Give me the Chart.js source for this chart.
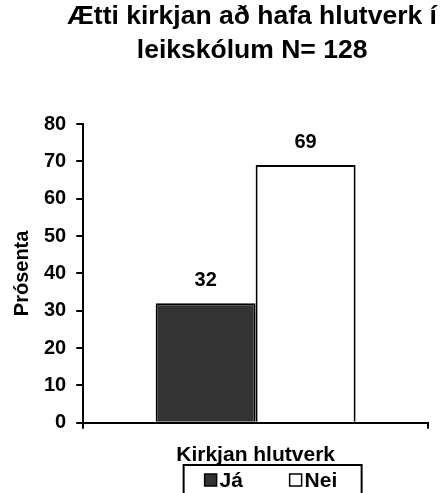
<!DOCTYPE html>
<html>
<head>
<meta charset="utf-8">
<script src="https://cdn.jsdelivr.net/npm/chart.js@4.4.0/dist/chart.umd.min.js"></script>
<style>
  html, body { margin: 0; padding: 0; background: #fff; }
  #wrap { width: 441px; height: 493px; }
</style>
</head>
<body>
<div id="wrap"><canvas id="barChart"></canvas></div>
<script>

const chartTitle = ['Ætti kirkjan að hafa hlutverk í', 'leikskólum N= 128'];
const categories = ['Kirkjan hlutverk'];
const seriesNames = ['Já', 'Nei'];
const seriesValues = [[32], [69]];
const seriesColors = ['#333333', '#ffffff'];
const yTicks = [0, 10, 20, 30, 40, 50, 60, 70, 80];
const xAxisTitle = 'Kirkjan hlutverk';
const yAxisTitle = 'Prósenta';

const fontFamily = '"Liberation Sans", Arial, sans-serif';

// title centred roughly over the plot (a bit wider so it isn't squeezed)
const centerTitle = {
  id: 'centerTitle',
  afterLayout(chart) {
    chart.titleBlock.left = chart.chartArea.left - 20;
    chart.titleBlock.right = chart.chartArea.right + 13;
  }
};

// value printed above each bar
const barValues = {
  id: 'barValues',
  afterDatasetsDraw(chart) {
    const ctx = chart.ctx;
    ctx.save();
    ctx.font = 'bold 20px ' + fontFamily;
    ctx.fillStyle = '#000';
    ctx.textAlign = 'center';
    ctx.textBaseline = 'middle';
    chart.data.datasets.forEach((ds, i) => {
      chart.getDatasetMeta(i).data.forEach((bar, j) => {
        ctx.fillText(ds.data[j], bar.x, bar.y - 23);
      });
    });
    ctx.restore();
  }
};

// boxed legend under the axis title (the box runs off the bottom edge)
const boxLegend = {
  id: 'boxLegend',
  afterDraw(chart) {
    const ctx = chart.ctx;
    const area = chart.chartArea;
    const xScale = chart.scales.x;
    const width = 178;
    const left = (area.left + area.right) / 2 + 17 - width / 2;
    const top = xScale.bottom - 3;
    const midY = top + 15;

    ctx.save();
    ctx.lineWidth = 2;
    ctx.strokeStyle = '#000';
    ctx.strokeRect(left, top, width, 60);

    ctx.font = 'bold 21px ' + fontFamily;
    ctx.textAlign = 'left';
    ctx.textBaseline = 'middle';
    chart.data.datasets.forEach((ds, i) => {
      const bx = left + 21 + i * 85;
      ctx.fillStyle = ds.backgroundColor;
      ctx.fillRect(bx, midY - 6, 12, 12);
      ctx.lineWidth = 1.5;
      ctx.strokeRect(bx, midY - 6, 12, 12);
      ctx.fillStyle = '#000';
      ctx.fillText(ds.label, bx + 15, midY + 1);
    });
    ctx.restore();
  }
};

const datasets = seriesNames.map((name, i) => ({
  label: name,
  data: seriesValues[i],
  backgroundColor: seriesColors[i],
  borderColor: '#000',
  borderWidth: 2,
  barPercentage: 1,
  categoryPercentage: 0.58
}));

new Chart(document.getElementById('barChart').getContext('2d'), {
  type: 'bar',
  data: { labels: categories, datasets: datasets },
  options: {
    responsive: true,
    maintainAspectRatio: false,
    animation: false,
    layout: { padding: { left: 0, right: 13, top: 0, bottom: 25 } },
    plugins: {
      legend: { display: false },
      tooltip: { enabled: false },
      title: {
        display: true,
        text: chartTitle,
        color: '#000',
        font: { family: fontFamily, size: 26.5, weight: 'bold', lineHeight: '34px' },
        padding: { top: 0, bottom: 56 }
      }
    },
    scales: {
      x: {
        grid: { drawOnChartArea: false, color: '#000', lineWidth: 2, tickLength: 6, offset: true },
        border: { color: '#000', width: 2 },
        ticks: { display: false },
        title: {
          display: true,
          text: xAxisTitle,
          color: '#000',
          font: { family: fontFamily, size: 21, weight: 'bold' },
          padding: { top: 14, bottom: 0 }
        }
      },
      y: {
        min: yTicks[0],
        max: yTicks[yTicks.length - 1],
        ticks: {
          stepSize: yTicks[1] - yTicks[0],
          color: '#000',
          padding: 10,
          font: { family: fontFamily, size: 20, weight: 'bold' }
        },
        grid: { drawOnChartArea: false, color: '#000', lineWidth: 2, tickLength: 7 },
        border: { color: '#000', width: 2 },
        title: {
          display: true,
          text: yAxisTitle,
          color: '#000',
          font: { family: fontFamily, size: 20, weight: 'bold' },
          padding: { top: 10, bottom: 0 }
        }
      }
    }
  },
  plugins: [centerTitle, barValues, boxLegend]
});
</script>
</body>
</html>
